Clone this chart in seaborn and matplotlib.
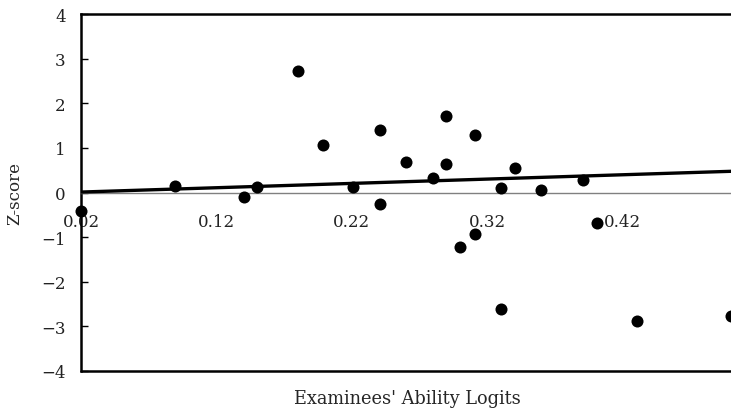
import matplotlib
matplotlib.use("Agg")
import matplotlib.pyplot as plt
import seaborn as sns
import pandas as pd

# 관측치 (Ability logits vs Z-score)
ability = [0.02, 0.0896, 0.1406, 0.150, 0.180, 0.199, 0.221, 0.2406, 0.2406,
           0.260, 0.280, 0.2896, 0.2896, 0.3107, 0.3406, 0.3305, 0.360, 0.391,
           0.300, 0.311, 0.401, 0.3305, 0.4305, 0.500]
zscore = [-0.41, 0.15, -0.09, 0.12, 2.73, 1.07, 0.12, 1.40, -0.26,
          0.68, 0.32, 1.72, 0.64, 1.28, 0.56, 0.11, 0.06, 0.27,
          -1.23, -0.94, -0.69, -2.60, -2.88, -2.76]

# 추세선 양 끝점
trend_x = [0.02, 0.50]
trend_y = [0.01, 0.475]

x_ticks = [0.02, 0.12, 0.22, 0.32, 0.42]
y_ticks = [-4, -3, -2, -1, 0, 1, 2, 3, 4]

df = pd.DataFrame({"ability": ability, "z": zscore})
df_trend = pd.DataFrame({"x": trend_x, "y": trend_y})

sns.set_theme(style="white")
plt.rcParams['font.family'] = ['DejaVu Serif']
plt.rcParams['axes.unicode_minus'] = True

fig = plt.figure(figsize=(7.31, 4.14), dpi=100)
ax = fig.add_axes([81 / 731, 1 - 372 / 414, 1 - 81 / 731, (372 - 15) / 414])

sns.scatterplot(data=df, x="ability", y="z", ax=ax, color="black", s=75,
                edgecolor="black", linewidth=0, zorder=4, clip_on=False)
sns.lineplot(data=df_trend, x="x", y="y", ax=ax, color="black", linewidth=2.4,
             zorder=3)

ax.set_xlim(0.02, 0.50)
ax.set_ylim(-4, 4)
ax.set_xticks(x_ticks)
ax.set_xticklabels([f"{t:.2f}" for t in x_ticks])
ax.set_yticks(y_ticks)

# x축을 y=0 위치로 이동, 바깥 테두리는 따로 그림
ax.spines['bottom'].set_position(('data', 0))
ax.spines['bottom'].set_color("#808080")
ax.spines['bottom'].set_linewidth(1.0)
ax.spines['right'].set_visible(False)
ax.spines['top'].set_color("black")
ax.spines['top'].set_linewidth(1.8)
ax.spines['left'].set_color("black")
ax.spines['left'].set_linewidth(1.8)
ax.plot([0, 1], [0, 0], transform=ax.transAxes, color="black", linewidth=1.8,
        clip_on=False, zorder=5)

ax.tick_params(axis="x", direction="in", length=4, width=1, color="#808080",
               pad=15, labelsize=12, labelcolor="#222222")
ax.tick_params(axis="y", direction="in", length=5, width=1, color="black",
               pad=11, labelsize=12, labelcolor="#222222", left=True)

ax.set_xlabel("")
ax.set_ylabel("Z-score", fontsize=12)
ax.yaxis.set_label_coords(-0.088, 0.5)
fig.text(407 / 731, 1 - 399 / 414, "Examinees' Ability Logits", ha="center",
         va="center", fontsize=12.8)

plt.savefig("out.png", dpi=100)
plt.close()
